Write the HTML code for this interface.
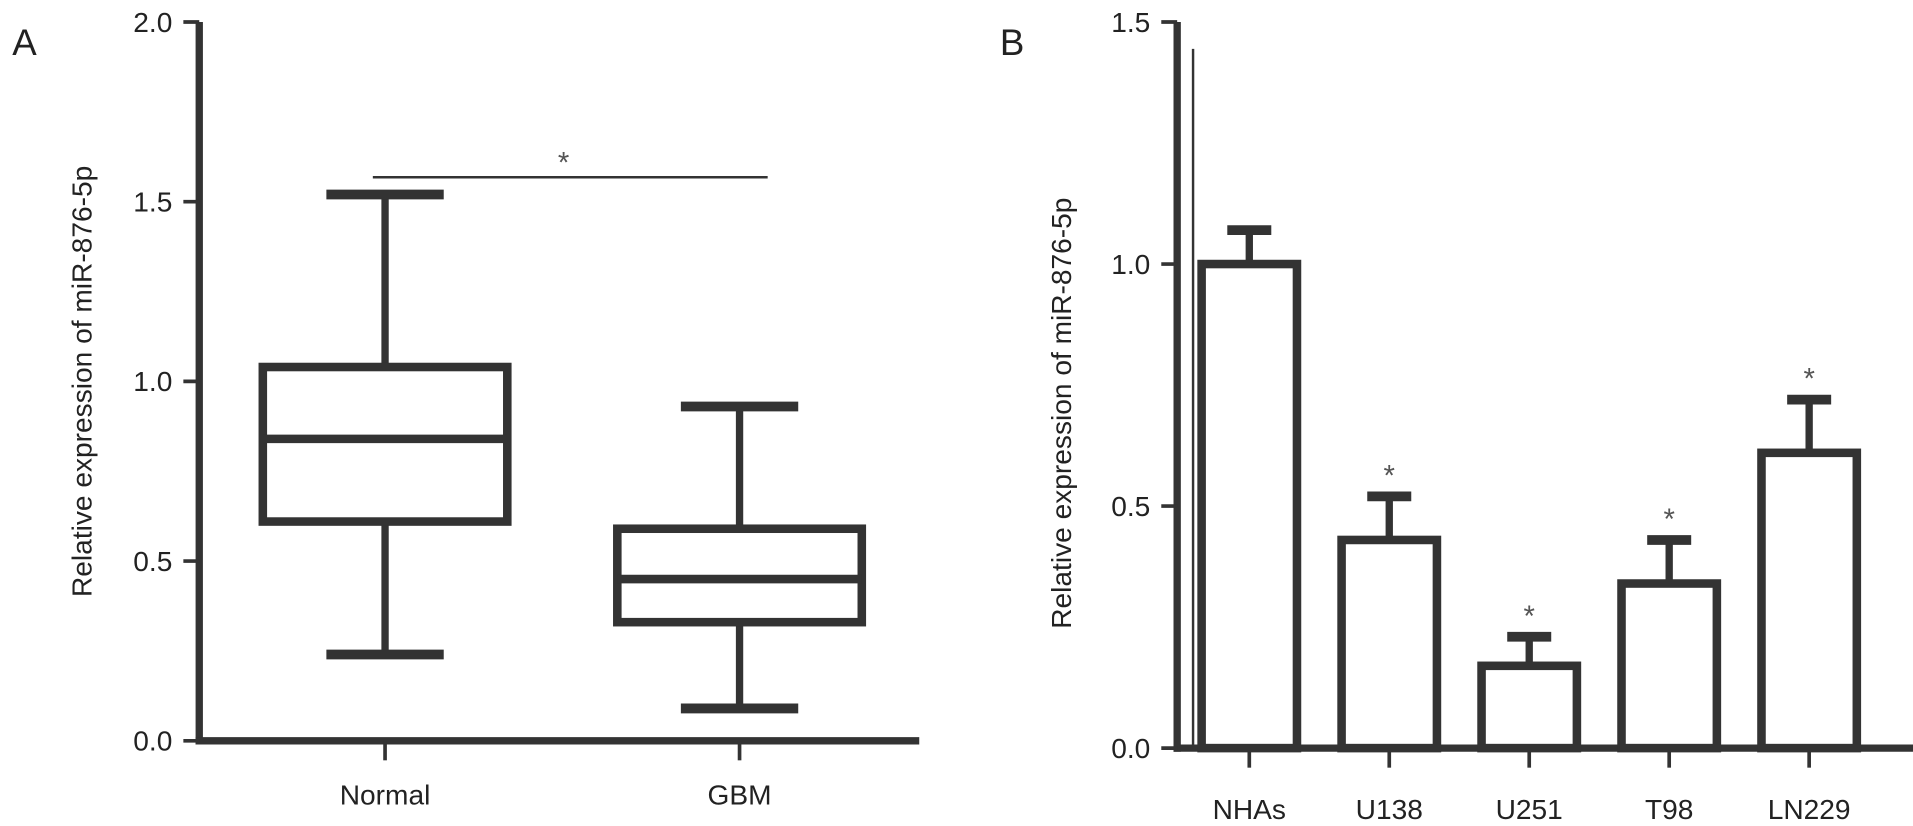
<!DOCTYPE html>
<html><head><meta charset="utf-8"><style>
body{margin:0;background:#fff;}
svg{display:block;font-family:"Liberation Sans",sans-serif;}
</style></head><body>
<svg width="1913" height="826"><g id="c" transform="scale(1.2224)"></g></svg>
<script>
const boxCats=["Normal","GBM"];
const boxMin=[0.24,0.09];
const boxQ1=[0.61,0.33];
const boxMed=[0.84,0.45];
const boxQ3=[1.04,0.59];
const boxMax=[1.52,0.93];
const aTicks=["0.0","0.5","1.0","1.5","2.0"];
const barCats=["NHAs","U138","U251","T98","LN229"];
const barVals=[1.0,0.43,0.17,0.34,0.61];
const barErr=[0.07,0.09,0.06,0.09,0.11];
const barSig=[false,true,true,true,true];
const bTicks=["0.0","0.5","1.0","1.5"];

const NS="http://www.w3.org/2000/svg";
const svg=document.getElementById('c');
const col="#333";
function el(t,a,txt){const e=document.createElementNS(NS,t);for(const k in a)e.setAttribute(k,a[k]);if(txt!==undefined)e.textContent=txt;svg.appendChild(e);return e;}
function line(x1,y1,x2,y2,w,n){const e=el('line',{x1,y1,x2,y2,stroke:col,'stroke-width':w,'stroke-linecap':'butt'});

return e;}
function text(x,y,s,sz,anc,n,extra){const e=el('text',Object.assign({x,y,'font-size':sz,'text-anchor':anc,fill:'#222'},extra||{}),s);

return e;}

// Panel A
const ya=v=>606-v*294;
const xa=i=>315+i*290;
text(10,45,"A",30,"start","panel-a-label");
line(163,18,163,609,6,"a-y-axis");
line(160,606,752,606,6,"a-x-axis");
aTicks.forEach(t=>{const v=parseFloat(t);line(150,ya(v),163,ya(v),3,"a-y-tick");text(141,ya(v)+8,t,23,"end","a-y-tick-label");});
text(0,0,"Relative expression of miR-876-5p",23,"middle","a-y-axis-title",{transform:"translate(75,312) rotate(-90)"});
boxCats.forEach((c,i)=>{
  const x=xa(i),hw=100,cw=48;
  line(x,606,x,622,3,"a-x-tick");
  text(x,658,c,23,"middle","a-x-label");
  line(x,ya(boxMax[i]),x,ya(boxQ3[i]),6,"whisker-upper");
  line(x,ya(boxQ1[i]),x,ya(boxMin[i]),6,"whisker-lower");
  line(x-cw,ya(boxMax[i]),x+cw,ya(boxMax[i]),8,"whisker-cap-max");
  line(x-cw,ya(boxMin[i]),x+cw,ya(boxMin[i]),8,"whisker-cap-min");
  const r=el('rect',{x:x-hw,y:ya(boxQ3[i]),width:2*hw,height:ya(boxQ1[i])-ya(boxQ3[i]),fill:'none',stroke:col,'stroke-width':7});
  
  
  line(x-hw,ya(boxMed[i]),x+hw,ya(boxMed[i]),7,"median-"+c.toLowerCase());
});
line(305,145,628,145,2,"significance-line");
text(461,141,"*",24,"middle","significance-star",{fill:'#555'});

// Panel B
const yb=v=>612-v*396;
const xb=i=>1022+i*114.5;
text(818,45,"B",30,"start","panel-b-label");
line(963,18,963,615,6,"b-y-axis");
line(976,40,976,612,2,"b-y-axis-inner");
line(960,612,1567,612,6,"b-x-axis");
bTicks.forEach(t=>{const v=parseFloat(t);line(950,yb(v),963,yb(v),3,"b-y-tick");text(941,yb(v)+8,t,23,"end","b-y-tick-label");});
text(0,0,"Relative expression of miR-876-5p",23,"middle","b-y-axis-title",{transform:"translate(876,338) rotate(-90)"});
barCats.forEach((c,i)=>{
  const x=xb(i),hw=39;
  line(x,612,x,628,3,"b-x-tick");
  text(x,670,c,23,"middle","b-x-label");
  const top=yb(barVals[i]+barErr[i]);
  line(x,yb(barVals[i]),x,top,6,"error-bar");
  line(x-18,top,x+18,top,8,"error-cap");
  const r=el('rect',{x:x-hw,y:yb(barVals[i]),width:2*hw,height:612-yb(barVals[i]),fill:'#fff',stroke:col,'stroke-width':7});
  
  
  if(barSig[i]) text(x,top-9,"*",24,"middle","bar-significance-star",{fill:'#555'});
});
</script>
</body></html>
